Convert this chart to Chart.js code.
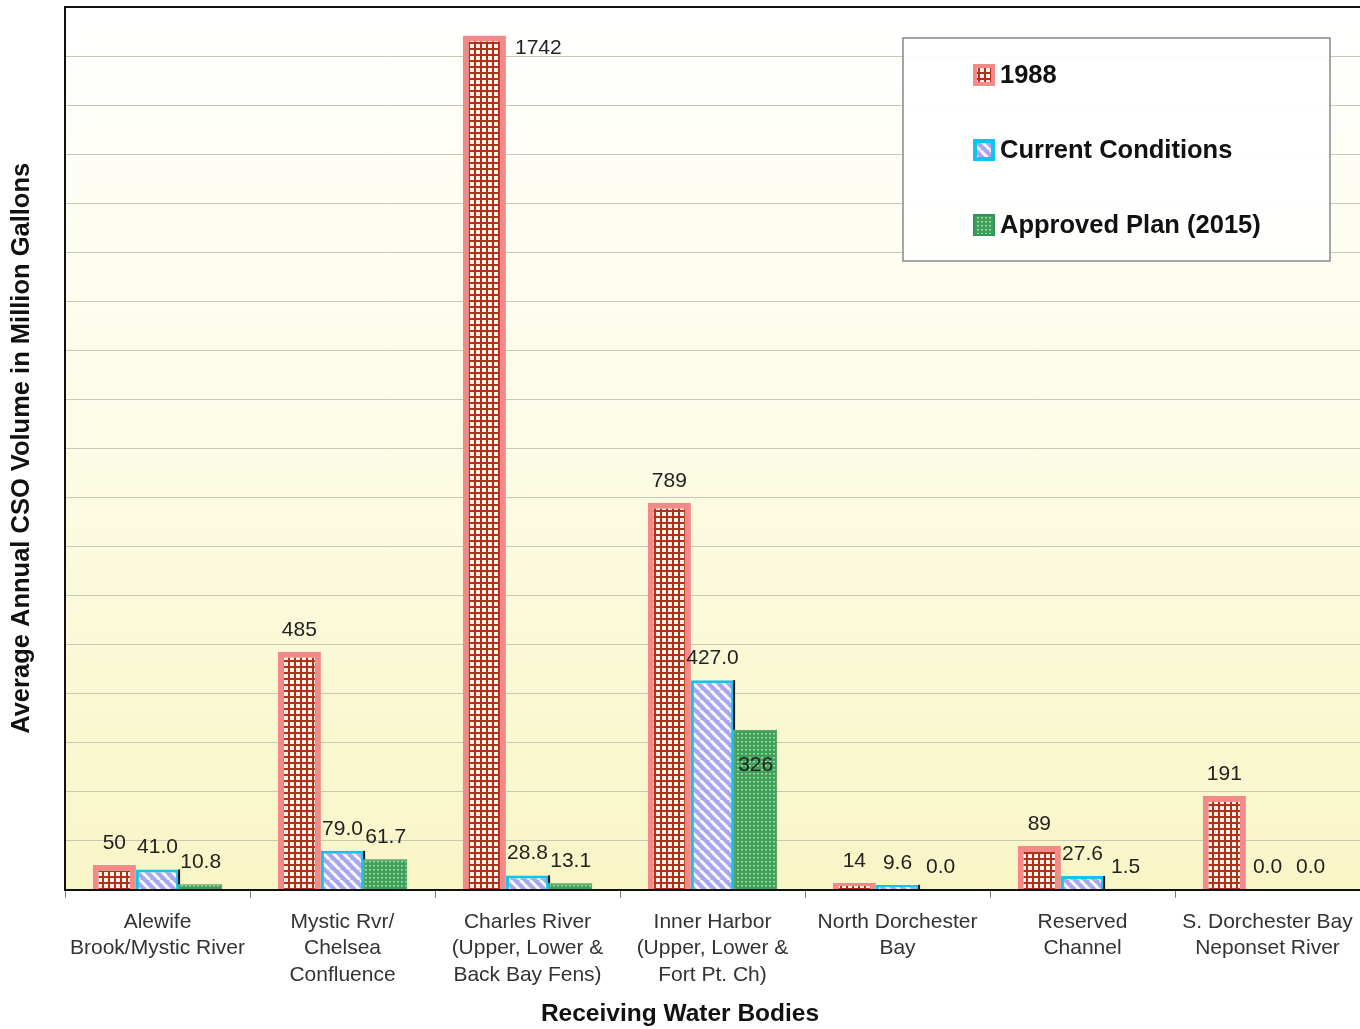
<!DOCTYPE html>
<html>
<head>
<meta charset="utf-8">
<title>Average Annual CSO Volume by Receiving Water Body</title>
<script src="https://cdn.jsdelivr.net/npm/chart.js@4.4.1/dist/chart.umd.min.js"></script>
<style>
  html, body { margin: 0; padding: 0; background: #fff; }
  #wrap { width: 1360px; height: 1029px; }
</style>
</head>
<body>
<div id="wrap"><canvas id="csoChart" width="1360" height="1029"></canvas></div>
<script>
// Average annual CSO volume (million gallons) per receiving water body

var categories = [
  ["Alewife", "Brook/Mystic River"],
  ["Mystic Rvr/", "Chelsea", "Confluence"],
  ["Charles River", "(Upper, Lower &", "Back Bay Fens)"],
  ["Inner Harbor", "(Upper, Lower &", "Fort Pt. Ch)"],
  ["North Dorchester", "Bay"],
  ["Reserved", "Channel"],
  ["S. Dorchester Bay", "Neponset River"]
];
var seriesNames = ["1988", "Current Conditions", "Approved Plan (2015)"];

var values1988 = [50, 485, 1742, 789, 14, 89, 191];
var valuesCurrent = [41.0, 79.0, 28.8, 427.0, 9.6, 27.6, 0.0];
var valuesApproved = [10.8, 61.7, 13.1, 326, 0.0, 1.5, 0.0];

// Label text as printed on the original chart
var labels1988 = ["50", "485", "1742", "789", "14", "89", "191"];
var labelsCurrent = ["41.0", "79.0", "28.8", "427.0", "9.6", "27.6", "0.0"];
var labelsApproved = ["10.8", "61.7", "13.1", "326", "0.0", "1.5", "0.0"];

var yMax = 1800;
var yStep = 100;

var fontFamily = "'Liberation Sans', Arial, Helvetica, sans-serif";

// ---- fill patterns ----
function makeTile(size, draw) {
  var c = document.createElement("canvas");
  c.width = size;
  c.height = size;
  draw(c.getContext("2d"), size);
  return document.getElementById("csoChart").getContext("2d").createPattern(c, "repeat");
}

var gridPattern = makeTile(6, function (g, s) {
  g.fillStyle = "#fff2e6";
  g.fillRect(0, 0, s, s);
  g.fillStyle = "#b1301a";
  g.fillRect(0, 0, s, 2);
  g.fillRect(0, 0, 2, s);
});

var stripePattern = makeTile(10, function (g, s) {
  g.fillStyle = "#a7a7ee";
  g.fillRect(0, 0, s, s);
  g.strokeStyle = "rgba(255,255,255,0.92)";
  g.lineWidth = 3;
  [-s, 0, s].forEach(function (k) {
    g.beginPath();
    g.moveTo(k, 0);
    g.lineTo(k + s, s);
    g.stroke();
  });
});

var dotPattern = makeTile(4, function (g, s) {
  g.fillStyle = "#3f9f60";
  g.fillRect(0, 0, s, s);
  g.fillStyle = "#a2dc86";
  g.fillRect(1, 1, 2, 1.5);
});

// ---- plugins ----
var plotBackground = {
  id: "plotBackground",
  beforeDraw: function (chart) {
    var ctx = chart.ctx;
    var a = chart.chartArea;
    ctx.save();
    ctx.fillStyle = "#ffffff";
    ctx.fillRect(0, 0, chart.width, chart.height);
    var grad = ctx.createLinearGradient(0, a.top, 0, a.bottom);
    grad.addColorStop(0, "#ffffff");
    grad.addColorStop(0.45, "#fdfce8");
    grad.addColorStop(1, "#f8f6c6");
    ctx.fillStyle = grad;
    ctx.fillRect(a.left, a.top, a.right - a.left, a.bottom - a.top);
    ctx.restore();
  }
};

// Label offsets (from bar top) where the original chart moved a label
var labelOffsets = {
  "0-2": { dx: 54, dy: 13 },
  "2-3": { dx: 0, dy: 35 }
};

var valueLabels = {
  id: "valueLabels",
  afterDatasetsDraw: function (chart) {
    var ctx = chart.ctx;
    ctx.save();

    // dark edge on the right of the current-conditions bars
    var cur = chart.getDatasetMeta(1).data;
    var app = chart.getDatasetMeta(2).data;
    ctx.strokeStyle = "#111";
    ctx.lineWidth = 2;
    cur.forEach(function (bar, i) {
      var next = app[i];
      if (bar.y < next.y - 1) {
        var xr = bar.x + bar.width / 2;
        ctx.beginPath();
        ctx.moveTo(xr, bar.y);
        ctx.lineTo(xr, next.y);
        ctx.stroke();
      }
    });

    ctx.font = "21px " + fontFamily;
    ctx.fillStyle = "#222";
    ctx.textAlign = "center";
    ctx.textBaseline = "middle";
    chart.data.datasets.forEach(function (ds, di) {
      chart.getDatasetMeta(di).data.forEach(function (bar, i) {
        var off = labelOffsets[di + "-" + i] || { dx: 0, dy: -22 };
        ctx.fillText(ds.valueLabels[i], bar.x + off.dx, bar.y + off.dy);
      });
    });

    // top frame line of the plot
    var a = chart.chartArea;
    ctx.strokeStyle = "#111";
    ctx.lineWidth = 2;
    ctx.beginPath();
    ctx.moveTo(a.left, a.top);
    ctx.lineTo(a.right, a.top);
    ctx.stroke();
    ctx.restore();
  }
};

var boxLegend = {
  id: "boxLegend",
  afterDraw: function (chart) {
    var ctx = chart.ctx;
    var bx = 903, by = 38, bw = 427, bh = 223;
    ctx.save();
    ctx.fillStyle = "rgba(255,255,255,0.92)";
    ctx.fillRect(bx, by, bw, bh);
    ctx.strokeStyle = "#888";
    ctx.lineWidth = 1.5;
    ctx.strokeRect(bx, by, bw, bh);

    ctx.font = "bold 25.5px " + fontFamily;
    ctx.textAlign = "left";
    ctx.textBaseline = "middle";
    chart.data.datasets.forEach(function (ds, i) {
      var cy = by + 37 + i * 75;
      var sx = bx + 70, sz = 22;
      ctx.fillStyle = ds.borderColor;
      ctx.fillRect(sx, cy - sz / 2, sz, sz);
      var inset = i === 2 ? 2 : 4;
      ctx.fillStyle = ds.backgroundColor;
      ctx.fillRect(sx + inset, cy - sz / 2 + inset, sz - 2 * inset, sz - 2 * inset);
      ctx.fillStyle = "#111";
      ctx.fillText(ds.label, sx + sz + 5, cy + 1);
    });
    ctx.restore();
  }
};

new Chart(document.getElementById("csoChart"), {
  type: "bar",
  data: {
    labels: categories,
    datasets: [
      {
        label: seriesNames[0],
        data: values1988,
        valueLabels: labels1988,
        backgroundColor: gridPattern,
        borderColor: "#f28a8a",
        borderWidth: 6,
        borderSkipped: "bottom"
      },
      {
        label: seriesNames[1],
        data: valuesCurrent,
        valueLabels: labelsCurrent,
        backgroundColor: stripePattern,
        borderColor: "#10c4ee",
        borderWidth: 3,
        borderSkipped: "bottom"
      },
      {
        label: seriesNames[2],
        data: valuesApproved,
        valueLabels: labelsApproved,
        backgroundColor: dotPattern,
        borderColor: "#33935a",
        borderWidth: 1,
        borderSkipped: "bottom"
      }
    ]
  },
  options: {
    responsive: false,
    animation: false,
    categoryPercentage: 0.7,
    barPercentage: 1.0,
    layout: { padding: { top: 7, right: 0, left: 0, bottom: 0 } },
    plugins: {
      legend: { display: false },
      tooltip: { enabled: false },
      title: {
        display: true,
        position: "bottom",
        text: "Receiving Water Bodies",
        color: "#111",
        font: { family: fontFamily, size: 24.5, weight: "bold" },
        padding: { top: 0, bottom: 0 }
      }
    },
    scales: {
      x: {
        grid: {
          display: true,
          drawOnChartArea: false,
          offset: true,
          tickLength: 8,
          color: "#777"
        },
        border: { display: true, color: "#111", width: 2 },
        ticks: {
          font: { family: fontFamily, size: 21, lineHeight: 1.26 },
          color: "#333",
          padding: 11,
          maxRotation: 0,
          autoSkip: false
        },
        afterFit: function (scale) {
          scale.height = 110;
          scale.paddingRight = 0;
        }
      },
      y: {
        min: 0,
        max: yMax,
        ticks: { display: false, stepSize: yStep },
        grid: { color: "#c8c8b6", lineWidth: 1, drawTicks: false },
        border: { display: true, color: "#111", width: 2 },
        title: {
          display: true,
          text: "Average Annual CSO Volume in Million Gallons",
          color: "#111",
          font: { family: fontFamily, size: 25.5, weight: "bold" },
          padding: { top: 7, bottom: 0 }
        },
        afterFit: function (scale) { scale.width = 65; }
      }
    }
  },
  plugins: [plotBackground, valueLabels, boxLegend]
});
</script>
</body>
</html>
